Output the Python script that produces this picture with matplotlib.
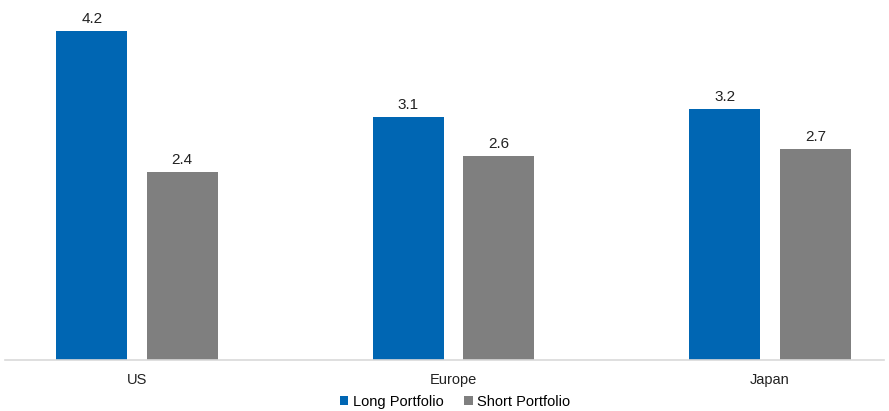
import matplotlib
matplotlib.use("Agg")
import matplotlib.pyplot as plt
import numpy as np

categories = ["US", "Europe", "Japan"]
long_vals = [4.2, 3.1, 3.2]
short_vals = [2.4, 2.6, 2.7]
series_names = ["Long Portfolio", "Short Portfolio"]

plt.rcParams['font.family'] = ['Liberation Sans', 'DejaVu Sans']

fig = plt.figure(figsize=(8.89, 4.11), dpi=100)
W, H = 889, 411
ax = fig.add_axes([5 / W, (H - 360) / H, 879 / W, 350 / H])

x = np.arange(len(categories))
bw = 0.224
off = 0.143
blue = "#0066B3"
gray = "#7F7F7F"
b1 = ax.bar(x - off, long_vals, bw, color=blue, label=series_names[0])
b2 = ax.bar(x + off, short_vals, bw, color=gray, label=series_names[1])

for bars, vals in ((b1, long_vals), (b2, short_vals)):
    for r, v in zip(bars, vals):
        ax.annotate(f"{v:.1f}", (r.get_x() + r.get_width() / 2, v),
                    xytext=(0, 3.5), textcoords="offset points",
                    ha="center", va="bottom", fontsize=11, color="#222222")

ax.set_xlim((5 - 137) / 316.5, (884 - 137) / 316.5)
ax.set_ylim(0, 350 / 78.33)
for s in ["top", "right", "left"]:
    ax.spines[s].set_visible(False)
ax.spines["bottom"].set_color("#D9D9D9")
ax.spines["bottom"].set_linewidth(1.2)
ax.set_yticks([])
ax.set_xticks(x)
ax.set_xticklabels(categories, fontsize=10.5, color="#222222")
ax.tick_params(axis="x", length=0, pad=9)

fig.legend(handles=[b1, b2], loc="center", bbox_to_anchor=(455 / W, 1 - 402 / H),
           ncol=2, frameon=False, fontsize=10.5, handlelength=0.6, handleheight=0.6,
           handletextpad=0.3, columnspacing=1.4)

fig.savefig("out.png", dpi=100)
